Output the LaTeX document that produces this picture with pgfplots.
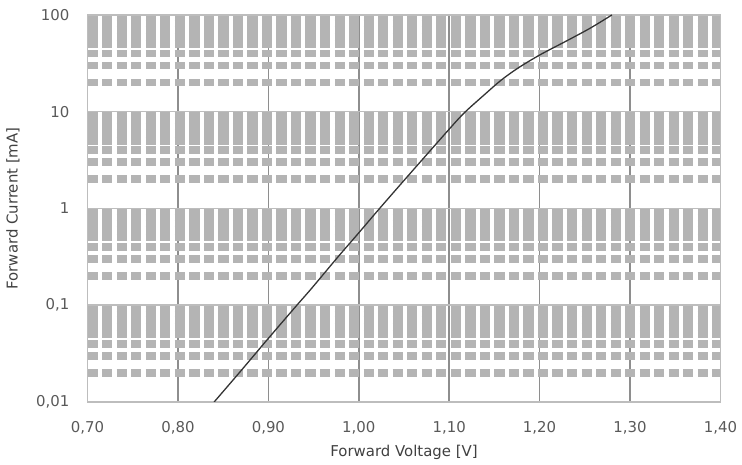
\documentclass[border=0pt]{standalone}
\usepackage{fontspec}
\setmainfont{DejaVu Sans}
\usepackage{pgfplots}
\pgfplotsset{compat=1.18}
\definecolor{ticktext}{HTML}{595959}
\definecolor{labeltext}{HTML}{404040}
\definecolor{vgrid}{HTML}{8E8E8E}
\definecolor{hgrid}{HTML}{BDBDBD}
\definecolor{minorgrid}{HTML}{B4B4B4}
\definecolor{curve}{HTML}{333333}

\begin{document}
\begin{tikzpicture}
\fontsize{15bp}{18bp}\selectfont
\begin{axis}[
    scale only axis,
    width=636bp, height=389bp,
    xmin=0.7, xmax=1.4,
    ymode=log, ymin=0.01, ymax=100,
    xtick={0.7,0.8,0.9,1.0,1.1,1.2,1.3,1.4},
    xticklabels={{0,70},{0,80},{0,90},{1,00},{1,10},{1,20},{1,30},{1,40}},
    ytick={0.01,0.1,1,10,100},
    yticklabels={{0,01},{0,1},1,10,100},
    minor ytick={0.02,0.03,0.04,0.05,0.06,0.07,0.08,0.09,
                 0.2,0.3,0.4,0.5,0.6,0.7,0.8,0.9,
                 2,3,4,5,6,7,8,9,
                 20,30,40,50,60,70,80,90},
    major tick length=0pt, minor tick length=0pt,
    tick style={draw=none},
    ticklabel style={font=\fontsize{15bp}{18bp}\selectfont, text=ticktext},
    xticklabel style={yshift=-14bp},
    yticklabel style={xshift=-13bp},
    xmajorgrids, ymajorgrids, yminorgrids,
    major x grid style={color=vgrid, line width=1.6bp},
    major y grid style={color=hgrid, line width=1.6bp},
    minor y grid style={color=minorgrid, line width=7.8bp, dash pattern=on 10.3bp off 4.3bp},
    axis line style={color=hgrid, line width=1.6bp},
    xlabel={Forward Voltage [V]},
    ylabel={Forward Current [mA]},
    label style={font=\fontsize{15bp}{18bp}\selectfont, text=labeltext},
    x label style={at={(axis description cs:0.5,0)}, anchor=north, yshift=-38bp},
    y label style={at={(axis description cs:-0.0991,0.5)}, anchor=south},
]
\coordinate (sw) at (rel axis cs:0,0);
\addplot[color=curve, line width=1.3bp, smooth] table {
x y
0.840 0.0100
0.870 0.0212
0.900 0.0455
0.9315 0.100
0.9477 0.149
0.977 0.316
1.000 0.560
1.023 1.00
1.055 2.20
1.100 6.60
1.117 9.80
1.139 15.0
1.157 21.0
1.1755 28.0
1.200 38.5
1.230 54.0
1.256 73.0
1.280 100.0
};
\end{axis}
\path (sw) ++(-88bp,-62bp) rectangle ++(742bp,466bp);
\end{tikzpicture}
\end{document}
